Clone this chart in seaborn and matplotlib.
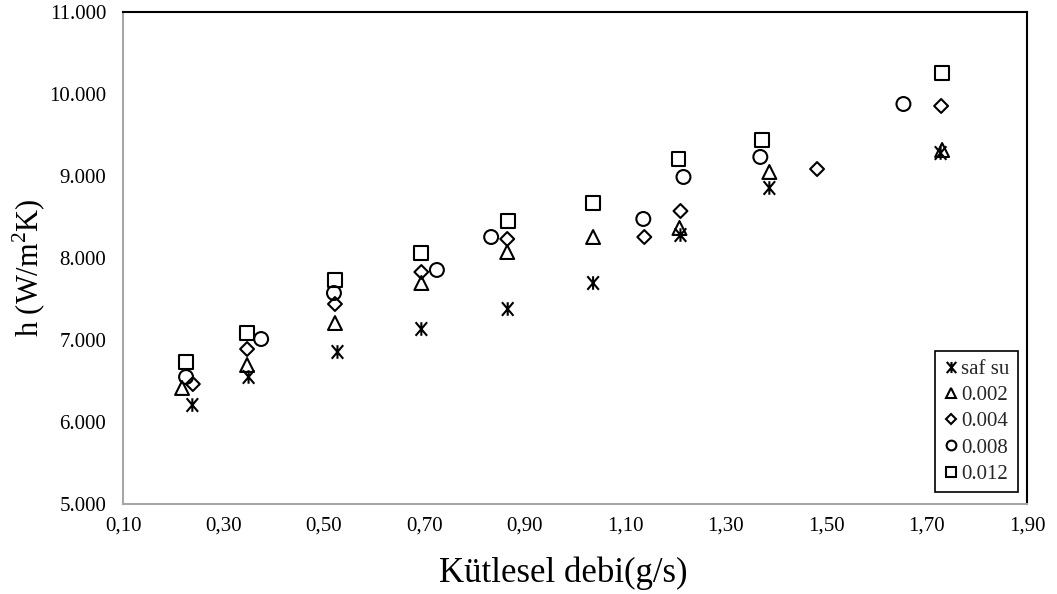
import numpy as np
import matplotlib
matplotlib.use("Agg")
import matplotlib.pyplot as plt
from matplotlib.path import Path
from matplotlib.lines import Line2D
from matplotlib.ticker import FuncFormatter, FixedLocator, MultipleLocator
import seaborn as sns
import pandas as pd

# ---- data ----
series_names = ["saf su", "0.002", "0.004", "0.008", "0.012"]

x_safsu = [0.238, 0.350, 0.527, 0.694, 0.866, 1.036, 1.210, 1.387, 1.728]
y_safsu = [6207, 6549, 6854, 7134, 7378, 7695, 8280, 8854, 9280]

x_002 = [0.2175, 0.347, 0.522, 0.694, 0.865, 1.036, 1.208, 1.387, 1.731]
y_002 = [6415, 6695, 7207, 7695, 8073, 8256, 8366, 9049, 9317]

x_004 = [0.239, 0.347, 0.522, 0.694, 0.865, 1.138, 1.210, 1.482, 1.729]
y_004 = [6463, 6890, 7439, 7829, 8232, 8256, 8573, 9085, 9854]

x_008 = [0.2255, 0.375, 0.520, 0.725, 0.833, 1.136, 1.216, 1.369, 1.654]
y_008 = [6549, 7012, 7573, 7854, 8256, 8476, 8988, 9232, 9878]

x_012 = [0.2255, 0.347, 0.522, 0.694, 0.867, 1.036, 1.206, 1.373, 1.731]
y_012 = [6732, 7085, 7732, 8061, 8451, 8671, 9207, 9439, 10256]

x_ticks = [0.10, 0.30, 0.50, 0.70, 0.90, 1.10, 1.30, 1.50, 1.70, 1.90]

xs = [x_safsu, x_002, x_004, x_008, x_012]
ys = [y_safsu, y_002, y_004, y_008, y_012]

# ---- style ----
sns.set_theme(style="white")
plt.rcParams["font.family"] = ["Liberation Serif", "DejaVu Serif"]
plt.rcParams["mathtext.fontset"] = "custom"
plt.rcParams["mathtext.rm"] = "Liberation Serif"

# asterisk marker: X with a vertical bar
star = Path([(0, -1), (0, 1), (-0.85, -1), (0.85, 1), (-0.85, 1), (0.85, -1)],
            [Path.MOVETO, Path.LINETO, Path.MOVETO, Path.LINETO, Path.MOVETO, Path.LINETO])
markers = [star, "^", "D", "o", "s"]
sizes = [95, 100, 50, 100, 100]
leg_sizes = [8, 7, 5, 7, 7]

fig = plt.figure(figsize=(10.57, 5.94), dpi=100)
ax = fig.add_axes([0.1164, 0.1515, 0.8552, 0.8283])

for name, x, y, m, s in zip(series_names, xs, ys, markers, sizes):
    df = pd.DataFrame({"x": x, "y": y})
    sns.scatterplot(data=df, x="x", y="y", ax=ax, marker=m, s=s,
                    facecolor="none", edgecolor="black", linewidth=1.5,
                    legend=False, zorder=3)

ax.set_xlim(0.10, 1.90)
ax.set_ylim(5000, 11000)
ax.xaxis.set_major_locator(FixedLocator(x_ticks))
ax.yaxis.set_major_locator(MultipleLocator(1000))
ax.xaxis.set_major_formatter(FuncFormatter(lambda v, p: f"{v:.2f}".replace(".", ",")))
ax.yaxis.set_major_formatter(FuncFormatter(lambda v, p: f"{v:,.0f}".replace(",", ".")))
ax.tick_params(axis="both", length=0, labelsize=15, colors="black")
ax.tick_params(axis="x", pad=9)
ax.tick_params(axis="y", pad=12)

ax.set_xlabel("Kütlesel debi(g/s)", fontsize=25, color="black")
ax.set_ylabel("h (W/m$^{2}$K)", fontsize=22, color="black")
ax.xaxis.set_label_coords(0.487, -0.140)
ax.xaxis.label.set_va("center")
ax.yaxis.set_label_coords(-0.104, 0.48)
ax.yaxis.label.set_va("center")

for side in ["left", "bottom"]:
    ax.spines[side].set_color("#a6a6a6")
    ax.spines[side].set_linewidth(1.5)
for side in ["top", "right"]:
    ax.spines[side].set_color("black")
    ax.spines[side].set_linewidth(1.5)
ax.grid(False)

handles = [Line2D([], [], linestyle="none", marker=m, markersize=ms,
                  markerfacecolor="none", markeredgecolor="black", markeredgewidth=1.5)
           for m, ms in zip(markers, leg_sizes)]
leg = ax.legend(handles, series_names, loc="lower right", bbox_to_anchor=(0.990, 0.024),
                borderaxespad=0, frameon=True, fancybox=False, fontsize=15,
                handlelength=0.7, handletextpad=0.15, labelspacing=0.32,
                borderpad=0.4, framealpha=1)
leg.get_frame().set_edgecolor("black")
leg.get_frame().set_linewidth(1.2)

fig.savefig("out.png", dpi=100)
